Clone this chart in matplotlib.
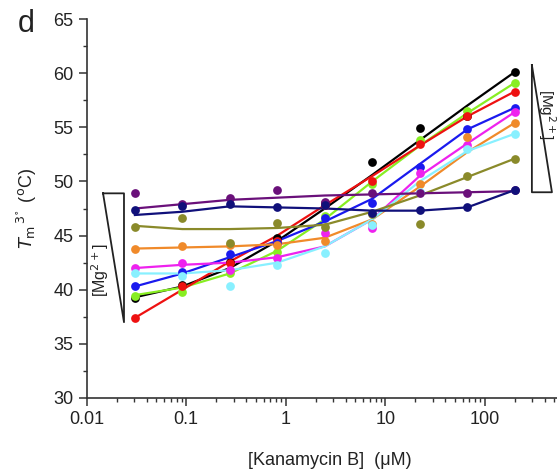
import numpy as np
import matplotlib.pyplot as plt
from matplotlib.ticker import FixedLocator, NullFormatter

plt.rcParams['font.family'] = ['Liberation Sans', 'DejaVu Sans']

# Kanamycin B concentrations (uM), 3-fold dilution
conc = [0.0305, 0.0914, 0.274, 0.823, 2.47, 7.41, 22.2, 66.7, 200.0]

colors = ['#000000', '#88ee22', '#ee1111', '#1a1aee', '#ee22ee',
          '#f08a2a', '#88f0ff', '#8a8a2a', '#6a107a', '#10107a']

# measured Tm points, one list per Mg2+ concentration
pts_black   = [39.2, 40.4, 42.6, 44.8, 48.0, 51.8, 54.9, 56.0, 60.1]
pts_green   = [39.4, 39.8, 41.5, 43.5, 46.8, 49.8, 53.8, 56.5, 59.1]
pts_red     = [37.4, 40.3, 42.5, 44.5, 47.8, 50.0, 53.5, 56.0, 58.3]
pts_blue    = [40.3, 41.6, 43.3, 44.3, 46.6, 48.0, 51.3, 54.8, 56.8]
pts_magenta = [42.0, 42.5, 41.8, 42.9, 45.2, 45.7, 50.8, 53.4, 56.4]
pts_orange  = [43.8, 44.0, 44.1, 44.1, 44.5, 46.1, 49.8, 54.1, 55.4]
pts_cyan    = [41.5, 41.3, 40.3, 42.3, 43.4, 46.0, 49.0, 53.0, 54.4]
pts_olive   = [45.8, 46.6, 44.3, 46.2, 45.8, 47.0, 46.1, 50.5, 52.1]
pts_purple  = [48.9, 47.9, 48.5, 49.2, 48.1, 48.9, 48.9, 48.9, 49.2]
pts_navy    = [47.4, 47.7, 47.9, 47.6, 47.8, 47.1, 47.4, 47.6, 49.2]

# fitted curves at the same concentrations
fit_black   = [39.3, 40.3, 42.0, 44.5, 47.5, 50.6, 53.8, 57.0, 60.1]
fit_green   = [39.5, 40.2, 41.5, 43.6, 46.5, 50.0, 53.3, 56.3, 59.1]
fit_red     = [37.4, 40.0, 42.6, 45.0, 47.8, 50.5, 53.3, 56.0, 58.3]
fit_blue    = [40.3, 41.5, 43.0, 44.5, 46.3, 48.4, 51.6, 54.8, 56.8]
fit_magenta = [42.0, 42.3, 42.5, 43.0, 44.0, 46.5, 50.5, 53.5, 56.4]
fit_orange  = [43.8, 43.9, 44.0, 44.2, 44.8, 46.5, 49.5, 52.7, 55.4]
fit_cyan    = [41.5, 41.5, 41.8, 42.5, 44.0, 46.5, 50.0, 52.8, 54.4]
fit_olive   = [45.9, 45.6, 45.6, 45.7, 46.0, 47.2, 48.7, 50.4, 52.1]
fit_purple  = [47.5, 47.9, 48.3, 48.5, 48.7, 48.8, 48.9, 49.0, 49.1]
fit_navy    = [46.9, 47.2, 47.7, 47.6, 47.5, 47.3, 47.3, 47.6, 49.2]

points = [pts_black, pts_green, pts_red, pts_blue, pts_magenta,
          pts_orange, pts_cyan, pts_olive, pts_purple, pts_navy]
fits = [fit_black, fit_green, fit_red, fit_blue, fit_magenta,
        fit_orange, fit_cyan, fit_olive, fit_purple, fit_navy]

W, H = 557, 474
fig = plt.figure(figsize=(W / 100, H / 100), dpi=100)
# axes runs from 0.01 to 1000, its right part falls outside the picture
ax = fig.add_axes([86.7 / W, 76 / H, 497.5 / W, 379 / H])

for c, p, f in zip(colors, points, fits):
    ax.plot(conc, f, color=c, lw=1.6, zorder=2)
    ax.plot(conc, p, 'o', color=c, ms=6.3, mec='none', zorder=3)

ax.set_xscale('log')
ax.set_xlim(0.01, 1000)
ax.set_ylim(30, 65)
ax.set_xticks([0.01, 0.1, 1, 10, 100])
ax.set_xticklabels(['0.01', '0.1', '1', '10', '100'])
ax.set_yticks(np.arange(30, 66, 5))
ax.yaxis.set_minor_locator(FixedLocator(np.arange(32.5, 65, 5)))
ax.xaxis.set_minor_formatter(NullFormatter())

for s in ['top', 'right']:
    ax.spines[s].set_visible(False)
for s in ['left', 'bottom']:
    ax.spines[s].set_color('#333333')
    ax.spines[s].set_linewidth(1.2)
ax.tick_params(which='major', direction='out', length=6, width=1.1,
               colors='#333333', labelsize=13, labelcolor='#222222')
ax.tick_params(which='minor', direction='out', length=3, width=1.0,
               colors='#333333')

ax.set_xlabel('[Kanamycin B]  (\u03bcM)', fontsize=13, color='#222222')
ax.xaxis.set_label_coords((330 - 86.7) / 497.5, -(452 - 398) / 379)
fig.text(27 / W, 1 - 208 / H, r'$T_\mathrm{m}$$^{\,3\!^\circ}$ ($^\mathrm{o}$C)',
         rotation=90, fontsize=13, color='#222222', ha='center', va='center')

fig.text(26 / W, 1 - 24 / H, 'd', fontsize=22, color='#222222',
         ha='center', va='center')

# [Mg2+] gradient wedges
ax.plot([0.0146, 0.0237, 0.0237, 0.0146], [48.9, 48.9, 37.0, 48.9],
        color='#222222', lw=1.3, clip_on=False)
ax.text(0.0137, 41.8, '[Mg$^{2+}$]', rotation=90, fontsize=11.5,
        ha='center', va='center', color='#222222')
ax.plot([298, 298, 474, 298], [60.75, 49.0, 49.0, 60.75],
        color='#222222', lw=1.3, clip_on=False)
ax.text(420, 56.2, '[Mg$^{2+}$]', rotation=270, fontsize=11,
        ha='center', va='center', color='#222222', clip_on=False)

fig.savefig('out.png', dpi=100)
